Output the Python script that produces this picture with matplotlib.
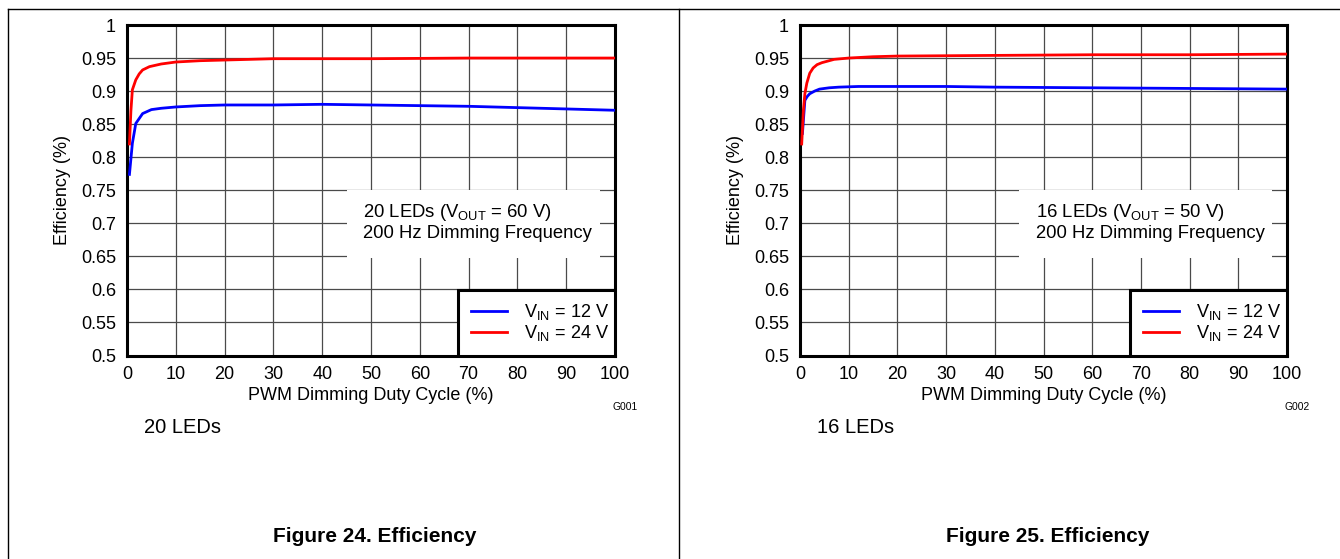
import matplotlib
matplotlib.use("Agg")
import matplotlib.pyplot as plt
from matplotlib.patches import Rectangle
from matplotlib.lines import Line2D
from matplotlib.ticker import FormatStrFormatter

plt.rcParams['font.family'] = ['Liberation Sans', 'DejaVu Sans']
plt.rcParams['mathtext.fontset'] = 'custom'
plt.rcParams['mathtext.rm'] = 'Liberation Sans'
plt.rcParams['mathtext.it'] = 'Liberation Sans'

# Figure 24, 20 LEDs
duty20_12 = [0.5, 1.1, 1.8, 3.2, 5, 7, 10, 15, 20, 30, 40, 50, 60, 70, 80, 90, 100]
eff20_12 = [0.774, 0.821, 0.851, 0.866, 0.872, 0.874, 0.876, 0.878, 0.879, 0.879,
            0.880, 0.879, 0.878, 0.877, 0.875, 0.873, 0.871]
duty20_24 = [0.5, 0.8, 1.1, 1.8, 2.5, 3.2, 4.6, 7, 10, 15, 20, 30, 50, 70, 100]
eff20_24 = [0.820, 0.870, 0.902, 0.917, 0.926, 0.932, 0.937, 0.941, 0.944, 0.946,
            0.947, 0.949, 0.949, 0.950, 0.950]

# Figure 25, 16 LEDs
duty16_12 = [0.5, 1.0, 1.5, 2.0, 3.0, 4.0, 6, 8, 12, 20, 30, 40, 60, 80, 100]
eff16_12 = [0.836, 0.886, 0.892, 0.896, 0.900, 0.903, 0.905, 0.906, 0.907, 0.907,
            0.907, 0.906, 0.905, 0.904, 0.903]
duty16_24 = [0.35, 0.7, 1.0, 1.4, 2.0, 2.7, 3.5, 4.5, 7, 10, 15, 20, 40, 60, 80, 100]
eff16_24 = [0.820, 0.871, 0.896, 0.912, 0.927, 0.935, 0.940, 0.943, 0.948, 0.950,
            0.952, 0.953, 0.954, 0.955, 0.955, 0.956]

xticks = list(range(0, 101, 10))
yticks = [0.5, 0.55, 0.6, 0.65, 0.7, 0.75, 0.8, 0.85, 0.9, 0.95, 1.0]


def panel(fig, rect, d12, e12, d24, e24, vout_txt, leds_txt, gcode, fig_txt):
    ax = fig.add_axes(rect)
    ax.set_xlim(0, 100)
    ax.set_ylim(0.5, 1.0)
    ax.set_xticks(xticks)
    ax.set_yticks(yticks)
    ax.yaxis.set_major_formatter(FormatStrFormatter('%g'))
    ax.tick_params(length=0, labelsize=13, colors='black')
    ax.tick_params(axis='y', pad=8)
    ax.tick_params(axis='x', pad=7.5)
    ax.grid(True, color='#4a4a4a', lw=0.9)
    ax.set_axisbelow(True)
    for s in ax.spines.values():
        s.set_linewidth(2.2)
        s.set_color('black')

    l1, = ax.plot(d12, e12, color='#0000ff', lw=2.0, zorder=3)
    l2, = ax.plot(d24, e24, color='#ff0000', lw=2.0, zorder=3)

    ax.set_xlabel("PWM Dimming Duty Cycle (%)", fontsize=13, labelpad=3)
    ax.set_ylabel("Efficiency (%)", fontsize=13, labelpad=7)

    # white note box over the grid
    ax.add_patch(Rectangle((45.0, 0.648), 51.9, 0.102, facecolor='white',
                           edgecolor='none', zorder=2))
    ax.text(48.4, 0.7167, vout_txt, fontsize=13.3, va='center', ha='left', zorder=4)
    ax.text(48.4, 0.685, "200 Hz Dimming Frequency", fontsize=13.3, va='center',
            ha='left', zorder=4)

    # legend box in the lower right corner
    ax.add_patch(Rectangle((0.678, 0.0), 0.322, 0.197, transform=ax.transAxes,
                           facecolor='white', edgecolor='black', lw=2.2, zorder=4))
    ax.legend([l1, l2], [r"V$_{\mathrm{IN}}$ = 12 V", r"V$_{\mathrm{IN}}$ = 24 V"],
              loc='center right', bbox_to_anchor=(0.678, 0.0, 0.31, 0.197),
              frameon=False, fontsize=13.1, handlelength=2.0, handletextpad=0.9,
              labelspacing=0.05, borderaxespad=0, borderpad=0).set_zorder(5)

    x0, y0, w, h = rect
    fig.text(x0 + w + 0.0075, y0 - 0.093, gcode, fontsize=7.4, ha='center', va='center')
    fig.text(x0 + 0.013, y0 - 0.128, leds_txt, fontsize=14.5, ha='left', va='center')
    fig.text(x0 + w / 2 + 0.003, 1 - 536 / 559, fig_txt, fontsize=15,
             fontweight='bold', ha='center', va='center')
    return ax


def main():
    fig = plt.figure(figsize=(13.4, 5.59), dpi=100)

    panel(fig, [127 / 1340, 1 - 355.5 / 559, 488 / 1340, 330.5 / 559],
          duty20_12, eff20_12, duty20_24, eff20_24,
          r"20 LEDs (V$_{\mathrm{OUT}}$ = 60 V)", "20 LEDs", "G001",
          "Figure 24. Efficiency")
    panel(fig, [800 / 1340, 1 - 355.5 / 559, 487 / 1340, 330.5 / 559],
          duty16_12, eff16_12, duty16_24, eff16_24,
          r"16 LEDs (V$_{\mathrm{OUT}}$ = 50 V)", "16 LEDs", "G002",
          "Figure 25. Efficiency")

    # outer table frame
    top = 1 - 9 / 559
    fig.add_artist(Line2D([8 / 1340, 1.0], [top, top], color='black', lw=1.0))
    fig.add_artist(Line2D([8 / 1340, 8 / 1340], [0, top], color='black', lw=1.0))
    fig.add_artist(Line2D([679 / 1340, 679 / 1340], [0, top], color='black', lw=1.0))

    fig.savefig("out.png", dpi=100)


if __name__ == '__main__':
    main()
